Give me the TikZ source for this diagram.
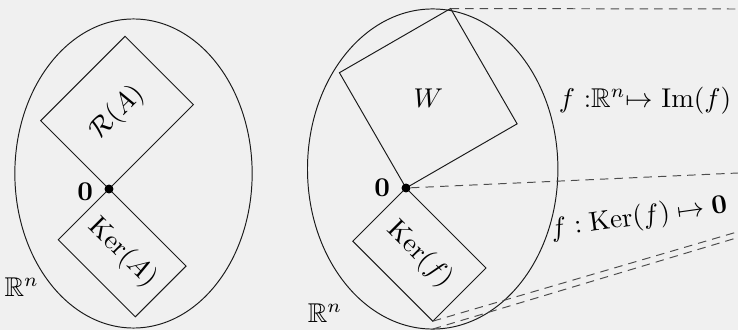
\RequirePackage{fix-cm}
\documentclass[tikz,border=0pt]{standalone}
\usepackage{amssymb}
\usetikzlibrary{positioning,shapes.geometric}
\definecolor{Paper}{HTML}{F0F0F0}
\definecolor{Ink}{HTML}{1A1A1A}
\definecolor{DashGray}{HTML}{4D4D4D}
\tikzset{
  space/.style={
    ellipse, draw=Ink, inner sep=0pt, outer sep=0pt
  },
  subspace/.style={
    rectangle, draw=Ink, inner sep=0pt, outer sep=0pt, align=center
  },
  origin/.style={circle, fill=black, minimum size=3.7pt, inner sep=0pt},
  proj/.style={draw=DashGray, dash pattern=on 3.5pt off 2.5pt}
}

\begin{document}
\begin{tikzpicture}[x=0.0145cm,y=0.0145cm,every node/.append style={font=\fontsize{11.2}{13.4}\selectfont}]
    \useasboundingbox (0,0) rectangle (738,330);
    \fill[Paper] (0,0) rectangle (738,330);
    % left: R^n split into range and kernel
    \node[space,minimum width=3.44cm,minimum height=4.48cm] (rnA) at (133.5,156.5) {};
    \coordinate (oA) at (109,141);
    \node[subspace,rotate=45,anchor=south west,minimum width=1.73cm,minimum height=1.40cm] (rangeA) at (oA) {$\mathcal{R}(A)$};
    \node[subspace,rotate=-45,anchor=north west,minimum width=1.58cm,minimum height=1.04cm] (kerA) at (oA) {$\mathrm{Ker}(A)$};
    \node[origin] (dotA) at (oA) {};
    \node[left=1pt of dotA,yshift=-1pt] (zeroA) {$\mathbf{0}$};
    \node (lblA) at (21.7,43) {$\mathbb{R}^n$};
    % right: W, kernel and the map
    \node[space,minimum width=3.63cm,minimum height=4.64cm] (rnF) at (432.7,161) {};
    \coordinate (oF) at (406,142);
    \node[subspace,rotate=30,anchor=south west,minimum width=1.86cm,minimum height=1.93cm] (wsp) at (oF) {};
    \node (wlbl) at (wsp.center) {$W$};
    \node[subspace,rotate=-45,anchor=north west,minimum width=1.64cm,minimum height=1.09cm] (kerF) at (oF) {$\mathrm{Ker}(f)$};
    \node[origin] (dotF) at (oF) {};
    \node[left=1pt of dotF] (zeroF) {$\mathbf{0}$};
    \node (lblF) at (325,17) {$\mathbb{R}^n$};
    \coordinate (cutA) at (738,321);
    \coordinate (cutB) at (738,157);
    \coordinate (cutC) at (738,98.3);
    \coordinate (cutD) at (738,92.5);
    \draw[proj] (wsp.north east) -- (cutA);
    \draw[proj] (dotF) -- (cutB);
    \draw[proj] (kerF.south east) -- (cutC);
    \draw[proj] (rnF.south) -- (cutD);
    \node (mapIm) at (645,229) {$f$ :$\mathbb{R}^n$$\mapsto$ $\mathrm{Im}(f)$};
    \node[rotate=8] (mapKer) at (639,112) {$f:\mathrm{Ker}(f)\mapsto\mathbf{0}$};
\end{tikzpicture}
\end{document}
